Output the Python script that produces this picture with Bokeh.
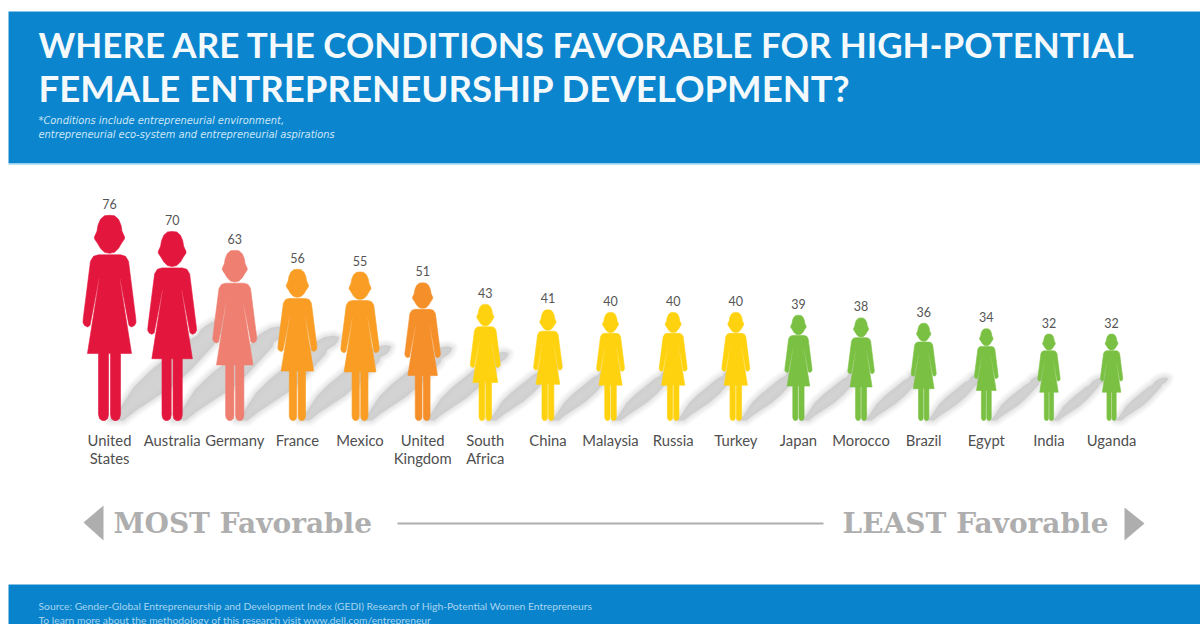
from bokeh.embed import file_html
from bokeh.models import Range1d
from bokeh.plotting import figure
from bokeh.resources import INLINE
from bokeh.core.properties import value

# GEDI scores by country, most to least favorable
countries = ["United States", "Australia", "Germany", "France", "Mexico", "United Kingdom",
             "South Africa", "China", "Malaysia", "Russia", "Turkey", "Japan", "Morocco",
             "Brazil", "Egypt", "India", "Uganda"]
scores = [76, 70, 63, 56, 55, 51, 43, 41, 40, 40, 40, 39, 38, 36, 34, 32, 32]
fills = ["#E3173E", "#E3173E", "#EE7F71", "#F99D25", "#F99D25", "#F58F2A", "#FFD20F", "#FFD20F",
         "#FFD20F", "#FFD20F", "#FFD20F", "#7AC143", "#7AC143", "#7AC143", "#7AC143", "#7AC143",
         "#7AC143"]

title_lines = ["WHERE ARE THE CONDITIONS FAVORABLE FOR HIGH-POTENTIAL",
               "FEMALE ENTREPRENEURSHIP DEVELOPMENT?"]
note_lines = ["*Conditions include entrepreneurial environment,",
              "entrepreneurial eco-system and entrepreneurial aspirations"]
source_lines = ["Source: Gender-Global Entrepreneurship and Development Index (GEDI) Research of High-Potential Women Entrepreneurs",
                "To learn more about the methodology of this research visit www.dell.com/entrepreneur"]

W, H = 1200, 624
BASE_PX = 420      # pixel row of the zero line (the figures' feet)
PX_PER_POINT = 2.7 # one score point in pixels
FIRST_X, STEP_X = 109, 62.63
BLUE = "#0A85CE"
GREY = "#AEAEAE"
FONT = "Lato"


def Y(py):
    """Convert a pixel row to score units on the y range."""
    return (BASE_PX - py) / PX_PER_POINT


p = figure(width=W, height=H, x_range=Range1d(0, W), y_range=Range1d(Y(H), Y(0)),
           output_backend="svg", toolbar_location=None, min_border=0,
           x_axis_location=None, y_axis_location=None)
p.grid.visible = False
p.outline_line_color = None
p.background_fill_color = "white"
p.border_fill_color = "white"

# Pictogram outline, in pixels of a 205 px tall figure: (half-width, height above the feet)
head_half = [(0, 205), (5, 204.5), (9, 201), (11.5, 195), (12.5, 189), (15, 183.5), (15, 181.5),
             (12, 177), (9, 172), (5, 168), (0, 167)]
body_half = [(0, 165.5), (11, 165.5), (16, 164), (19, 159), (26.2, 102), (26.5, 98), (25, 95),
             (22, 93.5), (19.5, 95), (18.5, 100), (10.7, 141), (10.3, 141), (22, 67), (11, 67),
             (11, 6), (10, 2), (7.5, 0), (4.5, 0), (1.8, 2), (1, 6), (1, 67)]
# Outline of the cast shadow: the same person without the slits and the leg gap
shadow_half = [(0, 205), (9, 201), (13, 190), (14, 182), (11, 170), (15, 160), (20, 100), (19, 67),
               (9, 20), (7, 0), (0, 0)]


def mirrored(half):
    return half + [(-u, v) for u, v in reversed(half) if u != 0]


head = [(u / 205, v / 205) for u, v in mirrored(head_half)]
body = [(u / 205, v / 205) for u, v in mirrored(body_half)]
shade = [(u / 205, v / 205) for u, v in mirrored(shadow_half)]

centers = [FIRST_X + i * STEP_X for i in range(len(scores))]


def silhouette(shape, cx, score, lean=0.0, squash=1.0, shift=0.0):
    h = score * PX_PER_POINT
    xs = [cx + shift + u * h + lean * v * h for u, v in shape]
    ys = [v * score * squash for u, v in shape]
    return xs, ys


def people(shapes, lean=0.0, squash=1.0, shift=0.0):
    all_x, all_y = [], []
    for cx, s in zip(centers, scores):
        parts = [silhouette(shape, cx, s, lean, squash, shift) for shape in shapes]
        all_x.append([[part[0]] for part in parts])
        all_y.append([[part[1]] for part in parts])
    return all_x, all_y


# Header and footer bands
p.quad(left=8, right=W, top=Y(11), bottom=Y(163), fill_color=BLUE, line_color=None)
p.quad(left=8, right=W, top=Y(163), bottom=Y(164.2), fill_color="#A9D9F2", line_color=None)
p.quad(left=8, right=W, top=Y(584), bottom=Y(H), fill_color="#0983CB", line_color=None)

# Soft cast shadows: stacked translucent strokes around a sheared silhouette
sx, sy = people([shade], lean=0.54, squash=0.50, shift=7)
for width, alpha in [(12, 0.08), (9, 0.10), (6, 0.13), (3, 0.16)]:
    p.multi_polygons(sx, sy, fill_color=None, line_color="#C4C4C4", line_alpha=alpha,
                     line_width=width, line_join="round")
p.multi_polygons(sx, sy, fill_color="#C8C8C8", fill_alpha=0.8, line_color=None)

# The pictograms: height is the score
fx, fy = people([head, body])
p.multi_polygons(fx, fy, fill_color=fills, line_color=fills, line_width=0.6, line_join="round")

# Score above each head, country below the feet
p.text(x=centers, y=[s + Y(BASE_PX - 11.5) for s in scores], text=[str(s) for s in scores],
       text_font=value(FONT), text_font_size="12.5px", text_color="#555555",
       text_align="center", text_baseline="middle")

first_rows, second_rows, second_x = [], [], []
for name, cx in zip(countries, centers):
    words = name.split(" ")
    first_rows.append(words[0])
    if len(words) > 1:
        second_rows.append(words[1])
        second_x.append(cx)
p.text(x=centers, y=[Y(439.5)] * len(centers), text=first_rows, text_font=value(FONT),
       text_font_size="14.8px", text_color="#4F4F4F", text_align="center", text_baseline="middle")
p.text(x=second_x, y=[Y(457.5)] * len(second_x), text=second_rows, text_font=value(FONT),
       text_font_size="14.8px", text_color="#4F4F4F", text_align="center", text_baseline="middle")

# Title block: the shorter second line is set slightly larger than the first
p.text(x=[38], y=[Y(43.5)], text=title_lines[:1], text_font=value(FONT), text_font_style="bold",
       text_font_size="35px", text_color="#F4F9FC", text_baseline="middle")
p.text(x=[38], y=[Y(87.5)], text=title_lines[1:], text_font=value(FONT), text_font_style="bold",
       text_font_size="36.6px", text_color="#F4F9FC", text_baseline="middle")
p.text(x=[38, 38], y=[Y(120), Y(133.5)], text=note_lines, text_font=value("DejaVu Sans"),
       text_font_style="italic", text_font_size="9.9px", text_color="#CFE7F6", text_baseline="middle")

# Footer notes
p.text(x=[38, 38], y=[Y(605), Y(619)], text=source_lines, text_font=value(FONT),
       text_font_size="10.3px", text_color="#A8D5F0", text_baseline="middle")

# Direction scale
p.patch(x=[83, 103, 103], y=[Y(522), Y(505), Y(540)], fill_color=GREY, line_color=None)
p.patch(x=[1144, 1124, 1124], y=[Y(523), Y(507), Y(540)], fill_color=GREY, line_color=None)
p.line(x=[397, 823], y=[Y(523), Y(523)], line_color=GREY, line_width=2)
p.text(x=[113], y=[Y(523)], text=["MOST Favorable"], text_font=value("DejaVu Serif"),
       text_font_style="bold", text_font_size="28px", text_color=GREY, text_baseline="middle")
p.text(x=[1108], y=[Y(523)], text=["LEAST Favorable"], text_font=value("DejaVu Serif"),
       text_font_style="bold", text_font_size="28px", text_color=GREY, text_align="right",
       text_baseline="middle")

open("out.html", "w").write(file_html(p, INLINE))
